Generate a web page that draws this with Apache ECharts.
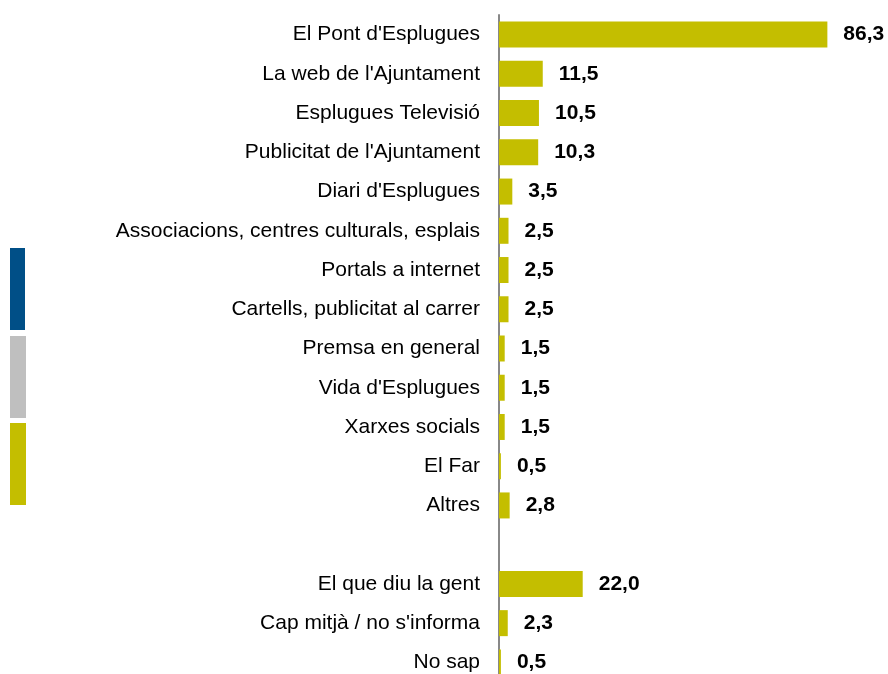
<!DOCTYPE html>
<html>
<head>
<meta charset="utf-8">
<script src="https://cdn.jsdelivr.net/npm/echarts@6/dist/echarts.min.js"></script>
<style>
  html, body { margin: 0; padding: 0; background: #fff; }
  #chart { width: 888px; height: 674px; }
</style>
</head>
<body>
<div id="chart"></div>
<script>
// media through which people get informed (%)
var categories = [
  "El Pont d'Esplugues", "La web de l'Ajuntament", 'Esplugues Televisió',
  "Publicitat de l'Ajuntament", "Diari d'Esplugues",
  'Associacions, centres culturals, esplais', 'Portals a internet',
  'Cartells, publicitat al carrer', 'Premsa en general', "Vida d'Esplugues",
  'Xarxes socials', 'El Far', 'Altres', '',
  'El que diu la gent', "Cap mitjà / no s'informa", 'No sap'
];
var values = [86.3, 11.5, 10.5, 10.3, 3.5, 2.5, 2.5, 2.5, 1.5, 1.5, 1.5, 0.5, 2.8, '-', 22.0, 2.3, 0.5];

var barColor = '#c4be00';

var myChart = echarts.init(document.getElementById('chart'));

myChart.setOption({
  animation: false,
  grid: { left: 499, top: 15, width: 380.5, height: 667, outerBoundsMode: 'none' },
  xAxis: {
    type: 'value', min: 0, max: 100, show: false
  },
  yAxis: {
    type: 'category',
    data: categories,
    inverse: true,
    axisTick: { show: false },
    axisLine: { show: true, lineStyle: { color: '#888888', width: 2 } },
    axisLabel: {
      color: '#000', fontSize: 21, margin: 19, padding: [3, 0, 0, 0],
      fontFamily: 'Liberation Sans, Arial, sans-serif'
    }
  },
  series: [{
    type: 'bar',
    data: values,
    barWidth: 26,
    itemStyle: { color: barColor },
    label: {
      show: true, position: 'right', distance: 16, padding: [3, 0, 0, 0],
      color: '#000', fontSize: 21, fontWeight: 'bold',
      fontFamily: 'Liberation Sans, Arial, sans-serif',
      formatter: function (p) { return p.value.toFixed(1).replace('.', ','); }
    }
  }],
  // decorative colour key on the left
  graphic: [
    { type: 'rect', shape: { x: 10, y: 248, width: 15, height: 82 }, style: { fill: '#004f87' } },
    { type: 'rect', shape: { x: 10, y: 336, width: 16, height: 82 }, style: { fill: '#bfbfbf' } },
    { type: 'rect', shape: { x: 10, y: 423, width: 16, height: 82 }, style: { fill: barColor } }
  ]
});
</script>
</body>
</html>
